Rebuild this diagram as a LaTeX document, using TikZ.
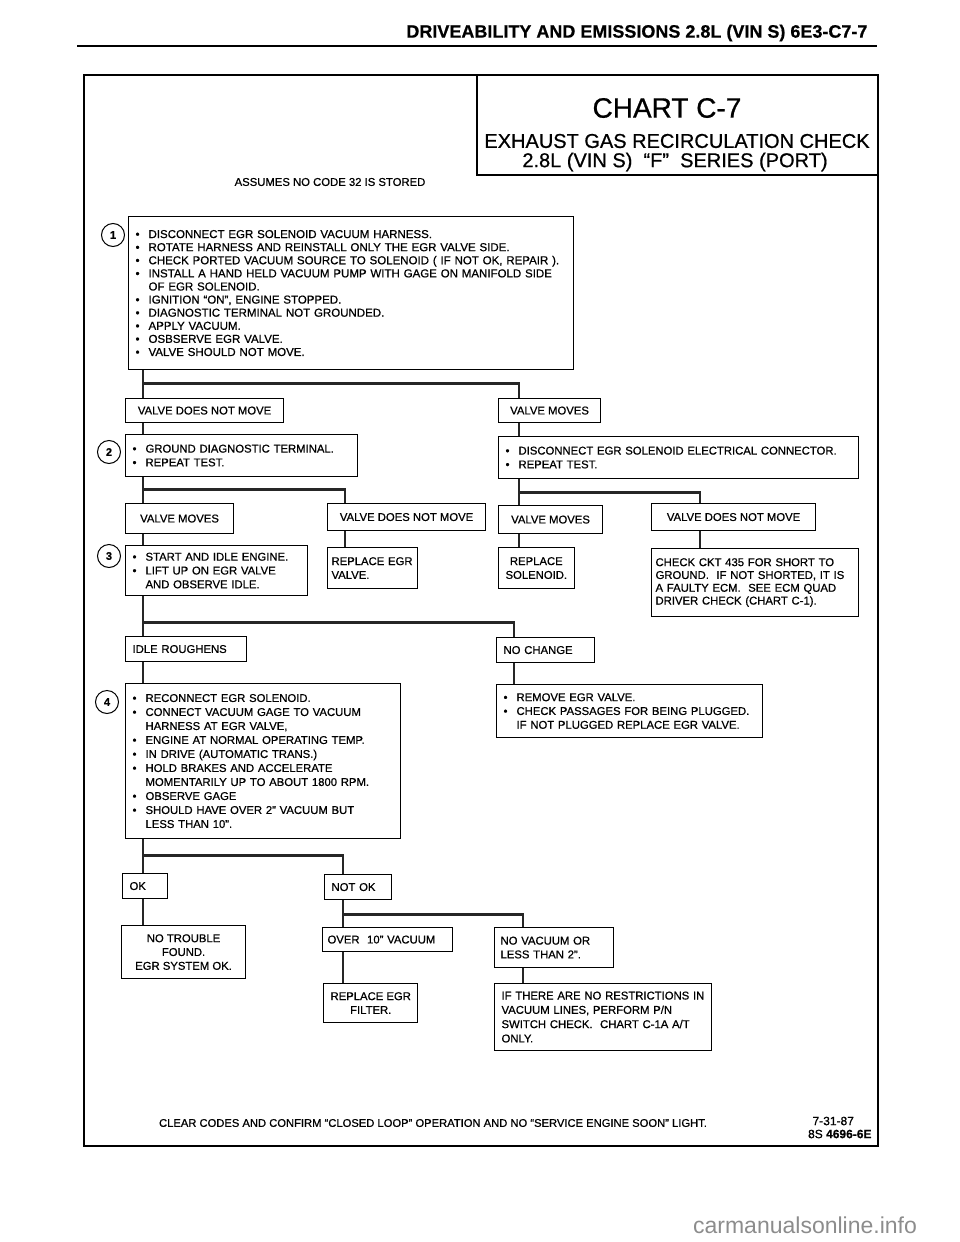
\documentclass[tikz,border=0pt]{standalone}
\usepackage{fontspec}
\setmainfont{Liberation Sans}[FakeBold=0.7]
\newfontfamily\markfont{Liberation Sans}
\usetikzlibrary{positioning}
\newcommand{\bl}{\makebox[13pt][l]{\textbullet}}
\newcommand{\ind}{\hspace*{13pt}}
\tikzset{
  box/.style={draw, line width=1.1pt, anchor=north west, inner xsep=7pt, inner ysep=3pt, align=left, font=\fontsize{11.3}{13.8}\selectfont},
  cbox/.style={box, align=center},
  conn/.style={line width=2.8pt, draw=black!85},
  stepnum/.style={draw, circle, line width=1pt, minimum size=23pt, inner sep=0pt, font=\fontsize{11}{12}\selectfont\bfseries},
}
\begin{document}
\begin{tikzpicture}[x=1pt, y=-1pt]
\useasboundingbox (0,0) rectangle (960,1242);
% page head
\node[anchor=east, font=\fontsize{18}{20}\selectfont\bfseries] (head) at (871,33) {DRIVEABILITY AND EMISSIONS 2.8L (VIN S) 6E3-C7-7};
\draw[line width=2.4pt] (77,46) -- (877,46);
% frame and title
\draw[line width=1.8pt] (84,75) rectangle (878,1146);
\draw[line width=1.2pt] (477,75) |- (878,175);
\node[font=\fontsize{28}{30}\selectfont] (chart) at (667,108) {CHART C-7};
\node[font=\fontsize{20}{22}\selectfont] (ttl1) at (677,141) {EXHAUST GAS RECIRCULATION CHECK};
\node[font=\fontsize{20}{22}\selectfont] (ttl2) at (675,162) {2.8L\ (VIN S)\ \ “F”\ \ SERIES\ (PORT)};
\node[font=\fontsize{11.3}{12}\selectfont] (assume) at (330,182) {ASSUMES NO CODE 32 IS STORED};

% step 1
\node[stepnum] (s1) at (113,235) {1};
\node[box, text width=431, minimum height=153, inner ysep=1pt, font=\fontsize{11.5}{13.1}\selectfont] (b1) at (128,216) {\bl DISCONNECT EGR SOLENOID VACUUM HARNESS.\\
\bl ROTATE HARNESS AND REINSTALL ONLY THE EGR VALVE SIDE.\\
\bl CHECK PORTED VACUUM SOURCE TO SOLENOID ( IF NOT OK, REPAIR ).\\
\bl INSTALL A HAND HELD VACUUM PUMP WITH GAGE ON MANIFOLD SIDE\\
\ind OF EGR SOLENOID.\\
\bl IGNITION “ON”, ENGINE STOPPED.\\
\bl DIAGNOSTIC TERMINAL NOT GROUNDED.\\
\bl APPLY VACUUM.\\
\bl OSBSERVE EGR VALVE.\\
\bl VALVE SHOULD NOT MOVE.\\[3pt]};
\node[cbox, minimum width=158, minimum height=24] (vdnm1) at (125,398) {VALVE DOES NOT MOVE};
\node[cbox, minimum width=102, minimum height=24] (vm1) at (498,398) {VALVE MOVES};

% step 2
\node[stepnum] (s2) at (109,452) {2};
\node[box, text width=218, minimum height=42] (b2) at (125,434) {\bl GROUND DIAGNOSTIC TERMINAL.\\
\bl REPEAT TEST.};
\node[box, text width=346, minimum height=42] (b2r) at (498,436) {\bl DISCONNECT EGR SOLENOID ELECTRICAL CONNECTOR.\\
\bl REPEAT TEST.};
\node[cbox, minimum width=108, minimum height=30] (vm2) at (125,503) {VALVE MOVES};
\node[cbox, minimum width=158, minimum height=27] (vdnm2) at (327,503) {VALVE DOES NOT MOVE};
\node[cbox, minimum width=104, minimum height=28] (vm3) at (498,505) {VALVE MOVES};
\node[cbox, minimum width=164, minimum height=27] (vdnm3) at (651,503) {VALVE DOES NOT MOVE};

% step 3
\node[stepnum] (s3) at (109,556) {3};
\node[box, text width=168, minimum height=50] (b3) at (125,545) {\bl START AND IDLE ENGINE.\\
\bl LIFT UP ON EGR VALVE\\
\ind AND OBSERVE IDLE.};
\node[box, inner xsep=4pt, text width=82, minimum height=41] (regr) at (327,547) {REPLACE EGR\\VALVE.};
\node[cbox, minimum width=74, minimum height=41] (rsol) at (498,547) {REPLACE\\SOLENOID.};
\node[box, inner xsep=4pt, text width=199, minimum height=68, font=\fontsize{11.3}{12.8}\selectfont] (ckt) at (651,548) {CHECK CKT 435 FOR SHORT TO\\GROUND.\ \ IF NOT SHORTED, IT IS\\A FAULTY ECM.\ \ SEE ECM QUAD\\DRIVER CHECK (CHART C-1).};
\node[box, text width=107, minimum height=25] (idle) at (125,636) {IDLE ROUGHENS};
\node[box, text width=84, minimum height=25] (nochg) at (496,637) {NO CHANGE};

% step 4
\node[stepnum] (s4) at (107,702) {4};
\node[box, text width=261, minimum height=155, font=\fontsize{11.3}{14}\selectfont] (b4) at (125,683) {\bl RECONNECT EGR SOLENOID.\\
\bl CONNECT VACUUM GAGE TO VACUUM\\
\ind HARNESS AT EGR VALVE,\\
\bl ENGINE AT NORMAL OPERATING TEMP.\\
\bl IN DRIVE (AUTOMATIC TRANS.)\\
\bl HOLD BRAKES AND ACCELERATE\\
\ind MOMENTARILY UP TO ABOUT 1800 RPM.\\
\bl OBSERVE GAGE\\
\bl SHOULD HAVE OVER 2” VACUUM BUT\\
\ind LESS THAN 10”.};
\node[box, text width=252, minimum height=53] (remove) at (496,684) {\bl REMOVE EGR VALVE.\\
\bl CHECK PASSAGES FOR BEING PLUGGED.\\
\ind IF NOT PLUGGED REPLACE EGR VALVE.};
\node[box, text width=31, minimum height=25] (ok) at (122,873) {OK};
\node[box, text width=53, minimum height=25] (notok) at (324,874) {NOT OK};
\node[cbox, minimum width=124, minimum height=53] (ntf) at (121,925) {NO TROUBLE\\FOUND.\\EGR SYSTEM OK.};
\node[box, inner xsep=5pt, text width=120, minimum height=24] (over10) at (322,927) {OVER\ \ 10” VACUUM};
\node[box, inner xsep=6pt, text width=107, minimum height=40] (novac) at (494,927) {NO VACUUM OR\\LESS THAN 2”.};
\node[cbox, minimum width=84, minimum height=39] (rfilt) at (323,983) {REPLACE EGR\\FILTER.};
\node[box, text width=203, minimum height=67, font=\fontsize{11.3}{14.3}\selectfont] (ifthere) at (494,983) {IF THERE ARE NO RESTRICTIONS IN\\VACUUM LINES, PERFORM P/N\\SWITCH CHECK.\ \ CHART C-1A A/T\\ONLY.};

% connectors
\draw[conn] ([xshift=15]b1.south west) -- ([xshift=18]vdnm1.north west);
\draw[conn] ([xshift=15,yshift=-13]b1.south west) -| ([xshift=21]vm1.north west);
\draw[conn] ([xshift=18]vdnm1.south west) -- ([xshift=18]b2.north west);
\draw[conn] ([xshift=21]vm1.south west) -- ([xshift=21]b2r.north west);
\draw[conn] ([xshift=18]b2.south west) -- ([xshift=18]vm2.north west);
\draw[conn] ([xshift=18,yshift=-12]b2.south west) -| ([xshift=18]vdnm2.north west);
\draw[conn] ([xshift=21]b2r.south west) -- ([xshift=21]vm3.north west);
\draw[conn] ([xshift=21,yshift=-13]b2r.south west) -| ([xshift=49]vdnm3.north west);
\draw[conn] ([xshift=18]vm2.south west) -- ([xshift=18]b3.north west);
\draw[conn] ([xshift=18]vdnm2.south west) -- ([xshift=18]regr.north west);
\draw[conn] ([xshift=21]vm3.south west) -- ([xshift=21]rsol.north west);
\draw[conn] ([xshift=49]vdnm3.south west) -- ([xshift=49]ckt.north west);
\draw[conn] ([xshift=18]b3.south west) -- ([xshift=18]idle.north west);
\draw[conn] ([xshift=18,yshift=-26]b3.south west) -| ([xshift=18]nochg.north west);
\draw[conn] ([xshift=18]idle.south west) -- ([xshift=18]b4.north west);
\draw[conn] ([xshift=18]nochg.south west) -- ([xshift=18]remove.north west);
\draw[conn] ([xshift=18]b4.south west) -- ([xshift=21]ok.north west);
\draw[conn] ([xshift=18,yshift=-16]b4.south west) -| ([xshift=19]notok.north west);
\draw[conn] ([xshift=21]ok.south west) -- ([xshift=22]ntf.north west);
\draw[conn] ([xshift=19]notok.south west) -- ([xshift=21]over10.north west);
\draw[conn] ([xshift=19,yshift=-14]notok.south west) -| ([xshift=29]novac.north west);
\draw[conn] ([xshift=21]over10.south west) -- ([xshift=20]rfilt.north west);
\draw[conn] ([xshift=29]novac.south west) -- ([xshift=29]ifthere.north west);

% foot
\node[font=\fontsize{11.2}{12}\selectfont] (clear) at (433,1123) {CLEAR CODES AND CONFIRM “CLOSED LOOP” OPERATION AND NO “SERVICE ENGINE SOON” LIGHT.};
\node[anchor=west, font=\fontsize{12}{13}\selectfont] (date) at (809,1121) {7-31-87};
\node[anchor=east, font=\fontsize{12}{13}\selectfont] (code) at (875,1134) {8S \textbf{4696-6E}};
\node[text=black!45, font=\markfont\fontsize{23}{25}\selectfont] (mark) at (805,1225) {carmanualsonline.info};
\end{tikzpicture}
\end{document}
